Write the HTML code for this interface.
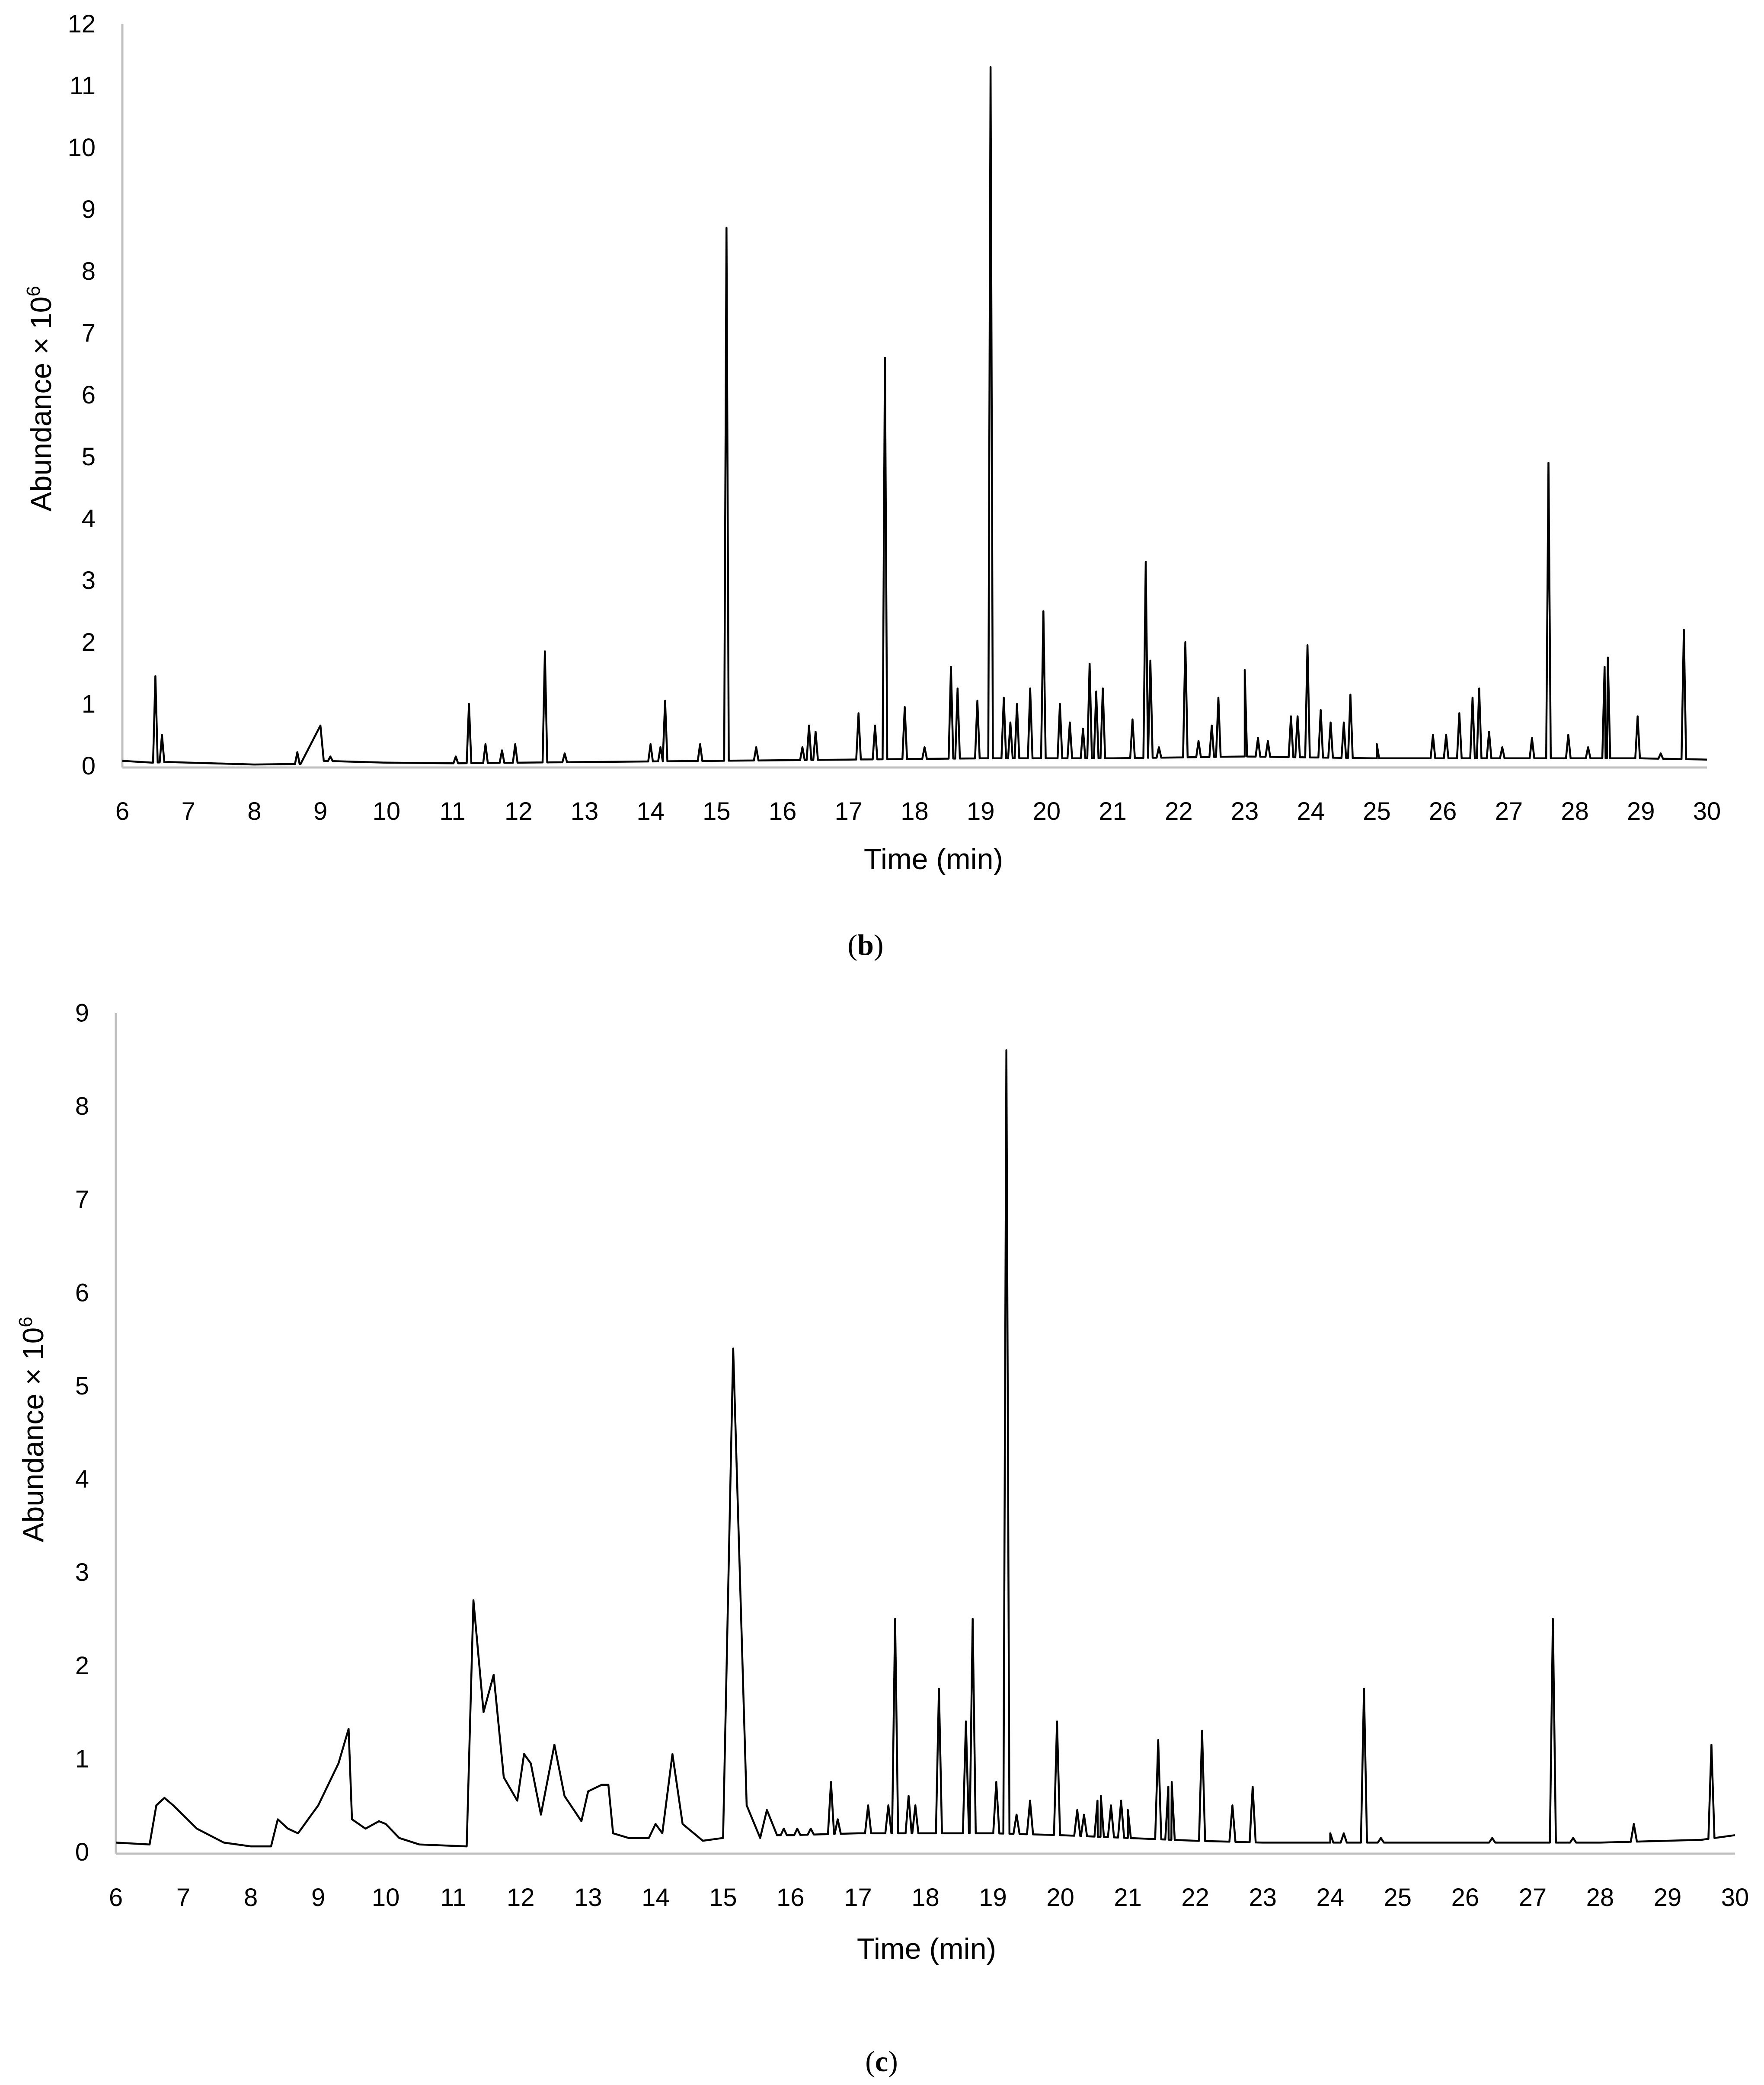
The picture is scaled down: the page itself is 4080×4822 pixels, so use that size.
<!DOCTYPE html>
<html><head><meta charset="utf-8"><style>
html,body{margin:0;padding:0;background:#fff;}
svg{display:block;font-family:"Liberation Sans",sans-serif;}
</style></head><body>
<svg id="fig" width="4080" height="4822" viewBox="0 0 4080 4822" xmlns="http://www.w3.org/2000/svg"></svg>
<script>
// ---- Chart (b) data ----
const bBaseT = [6.0, 6.45, 6.7, 8.0, 8.7, 9.0, 9.05, 10.0, 11.0, 13.0, 15.0, 17.0, 19.0, 21.0, 23.0, 25.0, 27.0, 29.0, 30.0];
const bBaseV = [0.08, 0.05, 0.06, 0.02, 0.03, 0.65, 0.08, 0.05, 0.04, 0.06, 0.08, 0.1, 0.12, 0.12, 0.15, 0.12, 0.12, 0.12, 0.1];
const bPeakT = [6.5, 6.6, 8.65, 9.15, 11.05, 11.25, 11.5, 11.75, 11.95, 12.4, 12.7, 14.0, 14.15, 14.22, 14.75, 15.15, 15.6, 16.3, 16.4, 16.5, 17.15, 17.4, 17.55, 17.85, 18.15, 18.55, 18.65, 18.95, 19.15, 19.35, 19.45, 19.55, 19.75, 19.95, 20.2, 20.35, 20.55, 20.65, 20.75, 20.85, 21.3, 21.5, 21.57, 21.7, 22.1, 22.3, 22.5, 22.6, 23.0, 23.2, 23.35, 23.7, 23.8, 23.95, 24.15, 24.3, 24.5, 24.6, 25.0, 25.85, 26.05, 26.25, 26.45, 26.55, 26.7, 26.9, 27.35, 27.6, 27.9, 28.2, 28.45, 28.5, 28.95, 29.3, 29.65];
const bPeakV = [1.45, 0.5, 0.22, 0.15, 0.15, 1.0, 0.35, 0.25, 0.35, 1.85, 0.2, 0.35, 0.3, 1.05, 0.35, 8.7, 0.3, 0.3, 0.65, 0.55, 0.85, 0.65, 6.6, 0.95, 0.3, 1.6, 1.25, 1.05, 11.3, 1.1, 0.7, 1.0, 1.25, 2.5, 1.0, 0.7, 0.6, 1.65, 1.2, 1.25, 0.75, 3.3, 1.7, 0.3, 2.0, 0.4, 0.65, 1.1, 1.55, 0.45, 0.4, 0.8, 0.8, 1.95, 0.9, 0.7, 0.7, 1.15, 0.35, 0.5, 0.5, 0.85, 1.1, 1.25, 0.55, 0.3, 0.45, 4.9, 0.5, 0.3, 1.6, 1.75, 0.8, 0.2, 2.2];
const bYTicks = ["0","1","2","3","4","5","6","7","8","9","10","11","12"];
const bXTicks = ["6","7","8","9","10","11","12","13","14","15","16","17","18","19","20","21","22","23","24","25","26","27","28","29","30"];

// ---- Chart (c) data ----
const cBaseT = [6.0, 6.5, 6.6, 6.72, 6.85, 7.2, 7.6, 8.0, 8.3, 8.4, 8.55, 8.7, 9.0, 9.3, 9.45, 9.5, 9.7, 9.9, 10.0, 10.2, 10.5, 11.2, 11.3, 11.45, 11.6, 11.75, 11.95, 12.05, 12.15, 12.3, 12.5, 12.65, 12.9, 13.0, 13.2, 13.3, 13.37, 13.6, 13.9, 14.0, 14.1, 14.25, 14.4, 14.7, 15.0, 15.15, 15.35, 15.55, 15.65, 15.8, 16.0, 17.0, 18.0, 19.0, 20.0, 21.0, 22.0, 23.0, 24.0, 25.0, 26.0, 27.0, 28.0, 29.0, 29.5, 30.0];
const cBaseV = [0.1, 0.08, 0.5, 0.58, 0.5, 0.25, 0.1, 0.06, 0.06, 0.35, 0.25, 0.2, 0.5, 0.95, 1.32, 0.35, 0.25, 0.33, 0.3, 0.15, 0.08, 0.06, 2.7, 1.5, 1.9, 0.8, 0.55, 1.05, 0.95, 0.4, 1.15, 0.6, 0.33, 0.65, 0.72, 0.72, 0.2, 0.15, 0.15, 0.3, 0.2, 1.05, 0.3, 0.12, 0.15, 5.4, 0.5, 0.15, 0.45, 0.18, 0.18, 0.2, 0.2, 0.2, 0.18, 0.15, 0.12, 0.1, 0.1, 0.1, 0.1, 0.1, 0.1, 0.12, 0.13, 0.18];
const cPeakT = [15.9, 16.1, 16.3, 16.6, 16.7, 17.15, 17.45, 17.55, 17.75, 17.85, 18.2, 18.6, 18.7, 19.05, 19.2, 19.35, 19.55, 19.95, 20.25, 20.35, 20.55, 20.6, 20.75, 20.9, 21.0, 21.45, 21.6, 21.65, 22.1, 22.55, 22.85, 24.0, 24.2, 24.5, 24.75, 26.4, 27.3, 27.6, 28.5, 29.65];
const cPeakV = [0.25, 0.25, 0.25, 0.75, 0.35, 0.5, 0.5, 2.5, 0.6, 0.5, 1.75, 1.4, 2.5, 0.75, 8.6, 0.4, 0.55, 1.4, 0.45, 0.4, 0.55, 0.6, 0.5, 0.55, 0.45, 1.2, 0.7, 0.75, 1.3, 0.5, 0.7, 0.2, 0.2, 1.75, 0.15, 0.15, 2.5, 0.15, 0.3, 1.15];
const cYTicks = ["0","1","2","3","4","5","6","7","8","9"];
const cXTicks = bXTicks;

const NS = "http://www.w3.org/2000/svg";
const svg = document.getElementById("fig");
function mk(tag, attrs, parent) {
  const e = document.createElementNS(NS, tag);
  for (const k in attrs) e.setAttribute(k, attrs[k]);
  (parent || svg).appendChild(e);
  return e;
}
function interp(ts, vs, t) {
  if (t <= ts[0]) return vs[0];
  for (let i = 1; i < ts.length; i++) {
    if (t <= ts[i]) { const f = (t - ts[i-1]) / (ts[i] - ts[i-1]); return vs[i-1] + f * (vs[i] - vs[i-1]); }
  }
  return vs[vs.length - 1];
}
function buildTrace(baseT, baseV, peakT, peakV, hw) {
  const pts = [];
  for (let i = 0; i < baseT.length; i++) pts.push([baseT[i], baseV[i]]);
  for (let i = 0; i < peakT.length; i++) {
    const t = peakT[i];
    pts.push([t - hw, interp(baseT, baseV, t - hw)]);
    pts.push([t, peakV[i]]);
    pts.push([t + hw, interp(baseT, baseV, t + hw)]);
  }
  pts.sort((a, b) => a[0] - b[0]);
  return pts;
}
function drawChart(cfg) {
  const g = mk("g", {});
  
  
  const xs = t => cfg.x0 + (t - 6) / 24 * (cfg.x1 - cfg.x0);
  const ys = v => cfg.y0 - v * cfg.unit;
  const ya = mk("line", {x1: cfg.x0, y1: cfg.yTop, x2: cfg.x0, y2: cfg.y0 + 4, stroke: "#bfbfbf", "stroke-width": 5}, g);
  
  
  const xa = mk("line", {x1: cfg.x0, y1: cfg.y0 + 4, x2: cfg.x1, y2: cfg.y0 + 4, stroke: "#bfbfbf", "stroke-width": 5}, g);
  
  
  cfg.yTicks.forEach((lab, i) => {
    const t = mk("text", {x: cfg.x0 - 62, y: ys(i) + 20, "text-anchor": "end", "font-size": 58, fill: "#000"}, g);
    t.textContent = lab;
    
    
  });
  cfg.xTicks.forEach((lab, i) => {
    const t = mk("text", {x: xs(6 + i), y: cfg.y0 + 125, "text-anchor": "middle", "font-size": 58, fill: "#000"}, g);
    t.textContent = lab;
    
    
  });
  const pts = buildTrace(cfg.baseT, cfg.baseV, cfg.peakT, cfg.peakV, cfg.hw);
  const d = pts.map((p, i) => (i ? "L" : "M") + xs(p[0]).toFixed(1) + " " + ys(p[1]).toFixed(1)).join(" ");
  const path = mk("path", {d: d, fill: "none", stroke: "#000", "stroke-width": 4.5, "stroke-linejoin": "round"}, g);
  
  
  const xt = mk("text", {x: cfg.xtX, y: cfg.xtY, "text-anchor": "middle", "font-size": 68, fill: "#000"}, g);
  xt.textContent = "Time (min)";
  
  
  const yt = mk("text", {x: 0, y: 0, "text-anchor": "middle", "font-size": 68, fill: "#000", transform: "translate(" + cfg.ytX + "," + cfg.ytY + ") rotate(-90)"}, g);
  yt.innerHTML = 'Abundance × 10<tspan dy="-26" font-size="44">6</tspan>';
  
  
  const cap = mk("text", {x: cfg.capX, y: cfg.capY, "text-anchor": "middle", "font-size": 68, fill: "#000", "font-family": "Liberation Serif, serif"}, g);
  cap.innerHTML = '(<tspan font-weight="bold">' + cfg.cap + '</tspan>)';
  
  
}
drawChart({name: "chart-b", x0: 283, x1: 3948, y0: 1771, unit: 143, yTop: 55,
  baseT: bBaseT, baseV: bBaseV, peakT: bPeakT, peakV: bPeakV, hw: 0.035,
  yTicks: bYTicks, xTicks: bXTicks, xtX: 2159, xtY: 2010, ytX: 118, ytY: 922, capX: 2002, capY: 2208, cap: "b"});
drawChart({name: "chart-c", x0: 268, x1: 4013, y0: 4283, unit: 215.6, yTop: 2343,
  baseT: cBaseT, baseV: cBaseV, peakT: cPeakT, peakV: cPeakV, hw: 0.045,
  yTicks: cYTicks, xTicks: cXTicks, xtX: 2143, xtY: 4530, ytX: 100, ytY: 3306, capX: 2039, capY: 4790, cap: "c"});
</script>
</body></html>
